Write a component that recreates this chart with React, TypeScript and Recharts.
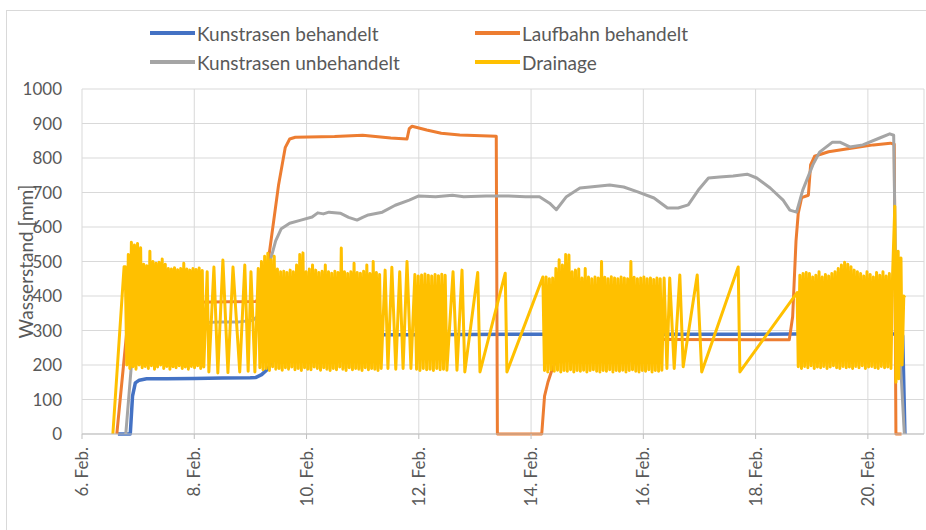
import React from "react";
import { LineChart, Line, XAxis, YAxis, CartesianGrid } from "recharts";

// --- tick values -----------------------------------------------------------
const dayTicks = [6, 8, 10, 12, 14, 16, 18, 20];
const levelTicks = [0, 100, 200, 300, 400, 500, 600, 700, 800, 900, 1000];

// --- series: [day of February, level mm] -----------------------------------
const kunstrasenBehandelt: [number, number][] = [
  [6.64, 0], [6.86, 0], [6.9, 110], [6.95, 148], [7.02, 156], [7.15, 160],
  [7.5, 160], [8.0, 161], [8.5, 162], [9.0, 163], [9.1, 164], [9.2, 172],
  [9.32, 190], [9.45, 240], [9.6, 275], [9.8, 287], [10.5, 288], [12, 288],
  [14, 289], [16, 289], [18, 289], [18.7, 290], [20.5, 290], [20.62, 285],
  [20.66, 0],
];

const laufbahnBehandelt: [number, number][] = [
  [6.62, 0], [6.8, 300], [6.9, 370], [7.2, 380], [8.0, 382], [8.6, 383],
  [9.1, 384], [9.25, 420], [9.35, 540], [9.5, 720], [9.62, 830], [9.7, 855],
  [9.8, 860], [10.5, 862], [11.0, 866], [11.5, 858], [11.79, 855], [11.83, 885],
  [11.88, 892], [12.14, 881], [12.4, 872], [12.73, 867], [13.38, 863],
  [13.4, 0], [14.19, 0], [14.24, 110], [14.3, 150], [14.37, 185], [14.5, 235],
  [14.7, 262], [15.0, 270], [16.4, 274], [18.6, 273], [18.66, 340],
  [18.72, 560], [18.76, 640], [18.82, 685], [18.94, 692], [18.98, 780],
  [19.05, 805], [19.3, 818], [19.7, 828], [20.1, 838], [20.4, 843],
  [20.47, 840], [20.5, 0], [20.6, 0],
];

const kunstrasenUnbehandelt: [number, number][] = [
  [6.78, 0], [6.88, 200], [6.95, 290], [7.1, 315], [7.5, 320], [8.0, 322],
  [8.5, 325], [8.8, 325], [9.05, 330], [9.15, 345], [9.25, 420], [9.35, 500],
  [9.45, 560], [9.55, 595], [9.7, 611], [9.9, 620], [10.1, 629], [10.2, 641],
  [10.3, 638], [10.4, 643], [10.6, 640], [10.75, 628], [10.9, 620], [11.0, 628],
  [11.1, 635], [11.35, 643], [11.58, 663], [11.83, 678], [12.0, 690],
  [12.3, 688], [12.6, 692], [12.8, 688], [13.2, 690], [13.6, 690], [13.9, 688],
  [14.15, 688], [14.33, 669], [14.45, 650], [14.63, 688], [14.87, 713],
  [15.05, 716], [15.4, 722], [15.65, 716], [15.9, 702], [16.19, 684],
  [16.43, 655], [16.62, 655], [16.8, 664], [16.98, 707], [17.16, 742],
  [17.36, 745], [17.6, 748], [17.85, 753], [18.02, 742], [18.26, 713],
  [18.49, 678], [18.61, 649], [18.73, 643], [18.84, 707], [19.02, 780],
  [19.14, 817], [19.37, 846], [19.5, 846], [19.68, 832], [19.91, 838],
  [20.21, 858], [20.39, 870], [20.46, 866], [20.5, 400], [20.6, 150],
  [20.65, 0],
];

// Drainage: sparse stretches as [day, level], dense logging stretches as
// [first, last] day plus the readings between them at a regular interval.
const drainSparse: [number, number][][] = [
  [[6.55, 0], [6.75, 485]],
  [[8.23, 470], [8.26, 180], [8.35, 484], [8.42, 177], [8.51, 504], [8.6, 178],
   [8.69, 484], [8.81, 180], [8.9, 490], [8.96, 182], [9.01, 470], [9.08, 180]],
  [[11.4, 475], [11.45, 190], [11.52, 483], [11.59, 188], [11.66, 470],
   [11.72, 190], [11.79, 500], [11.86, 190]],
  [[12.61, 470], [12.68, 185], [12.77, 475], [12.82, 180], [13.05, 468],
   [13.09, 180], [13.54, 466], [13.57, 180]],
  [[16.37, 452], [16.42, 190], [16.47, 452], [16.55, 190], [16.65, 461],
   [16.71, 195], [16.96, 461], [17.04, 180], [17.69, 484], [17.72, 180],
   [18.74, 410]],
  [[20.48, 660], [20.5, 150], [20.54, 530], [20.55, 160], [20.59, 510],
   [20.61, 200], [20.64, 400], [20.66, 395]],
];

const drainSpans: [number, number][] = [
  [6.77, 8.17], [9.14, 11.33], [11.93, 12.5], [14.21, 16.33], [18.76, 20.44],
];

const drainDense1 = [
  485, 200, 520, 190, 556, 195, 548, 188, 552, 200, 540, 192, 492, 196, 488, 190,
  530, 198, 500, 188, 495, 194, 498, 200, 507, 190, 492, 196, 480, 188, 478, 195,
  482, 192, 476, 198, 480, 190, 495, 194, 478, 188, 475, 196, 480, 192, 477, 198,
  481, 190, 474, 194,
];
const drainDense2 = [
  480, 192, 500, 186, 515, 190, 524, 184, 505, 195, 515, 188, 478, 190, 470, 185,
  472, 192, 468, 188, 475, 194, 470, 186, 490, 190, 520, 184, 525, 192, 470, 188,
  478, 186, 490, 194, 475, 190, 468, 185, 472, 192, 490, 188, 470, 184, 466, 190,
  472, 186, 468, 194, 539, 188, 470, 184, 465, 192, 470, 186, 495, 190, 468, 188,
  466, 184, 472, 192, 490, 186, 465, 190, 500, 188, 468, 184, 462, 190,
];
const drainDense3 = [
  462, 188, 458, 184, 461, 190, 464, 186, 460, 188, 458, 184, 462, 190, 459, 186,
  463, 188, 460, 185,
];
const drainDense4 = [
  455, 184, 455, 180, 450, 186, 452, 182, 480, 185, 505, 180, 490, 184, 520, 182,
  519, 186, 470, 180, 475, 184, 478, 182, 452, 185, 480, 180, 455, 184, 450, 186,
  455, 182, 452, 180, 500, 184, 454, 182, 450, 186, 456, 180, 452, 184, 450, 182,
  455, 185, 452, 180, 450, 184, 500, 186, 454, 182, 450, 180, 452, 184, 455, 182,
  450, 186, 452, 180, 448, 184, 452, 182, 450, 185,
];
const drainDense5 = [
  195, 460, 190, 465, 196, 468, 192, 465, 198, 455, 190, 460, 194, 470, 192, 455,
  196, 462, 190, 458, 194, 465, 198, 470, 192, 480, 190, 490, 196, 498, 192, 492,
  194, 485, 190, 475, 196, 470, 192, 465, 198, 458, 190, 470, 194, 462, 196, 455,
  192, 468, 190, 460, 196, 470, 192, 458, 194, 465, 190, 460,
];
const drainDense = [drainDense1, drainDense2, drainDense3, drainDense4, drainDense5];

// --- helpers ---------------------------------------------------------------
type Pt = { t: number; v: number };
const toPts = (rows: [number, number][]): Pt[] => rows.map(([t, v]) => ({ t, v }));

function drainage(): Pt[] {
  const out: Pt[] = [];
  drainSparse.forEach((rows, i) => {
    out.push(...toPts(rows));
    const vals = drainDense[i];
    if (!vals) return;
    const [a, b] = drainSpans[i];
    vals.forEach((v, j) => out.push({ t: a + ((b - a) * j) / (vals.length - 1), v }));
  });
  return out;
}

const FONT = "Lato, 'Open Sans', sans-serif";
const GREY = "#595959";

const series = [
  { name: "Kunstrasen behandelt", color: "#4472C4", width: 3.5, data: toPts(kunstrasenBehandelt) },
  { name: "Laufbahn behandelt", color: "#ED7D31", width: 3, data: toPts(laufbahnBehandelt) },
  { name: "Kunstrasen unbehandelt", color: "#A5A5A5", width: 3, data: toPts(kunstrasenUnbehandelt) },
  { name: "Drainage", color: "#FFC000", width: 3, data: drainage() },
];

function DayTick({ x, y, payload }: any) {
  return (
    <text
      x={x}
      y={y}
      transform={`rotate(-90 ${x} ${y})`}
      textAnchor="end"
      dy="0.36em"
      fill={GREY}
      fontSize={17}
      fontFamily={FONT}
    >
      {`${payload.value}. Feb.`}
    </text>
  );
}

function LevelTick({ y, payload }: any) {
  return (
    <text x={62} y={y} textAnchor="end" dy="0.36em" fill={GREY} fontSize={17} fontFamily={FONT}>
      {payload.value}
    </text>
  );
}

function AxisTitle({ viewBox }: any) {
  const cy = viewBox.y + viewBox.height / 2;
  return (
    <text
      x={26}
      y={cy}
      transform={`rotate(-90 26 ${cy})`}
      textAnchor="middle"
      dy="0.36em"
      fill={GREY}
      fontSize={19}
      fontFamily={FONT}
    >
      Wasserstand [mm]
    </text>
  );
}

export default function App() {
  return (
    <div style={{ position: "fixed", left: 0, top: 0, width: 926, height: 530, overflow: "hidden", background: "#fff" }}>
      <div style={{ position: "absolute", left: 6, top: 10, width: 960, height: 560, border: "1px solid #d9d9d9" }} />
      {series.map((s, i) => (
        <div
          key={s.name}
          style={{
            position: "absolute",
            left: i % 2 === 0 ? 150 : 475,
            top: i < 2 ? 21 : 50,
            height: 24,
            display: "flex",
            alignItems: "center",
            fontFamily: FONT,
            fontSize: 19,
            color: GREY,
            whiteSpace: "nowrap",
          }}
        >
          <span style={{ display: "inline-block", width: 45, height: 4, background: s.color }} />
          <span style={{ marginLeft: 2 }}>{s.name}</span>
        </div>
      ))}
      <LineChart width={926} height={530} margin={{ top: 89, right: 2, bottom: 0, left: 0 }}>
        <CartesianGrid stroke="#d9d9d9" />
        <XAxis
          dataKey="t"
          type="number"
          domain={[6, 21]}
          ticks={dayTicks}
          allowDataOverflow
          height={96}
          stroke="#bfbfbf"
          tickSize={5}
          tickMargin={8}
          tick={<DayTick />}
          interval={0}
        />
        <YAxis
          dataKey="v"
          type="number"
          domain={[0, 1000]}
          ticks={levelTicks}
          width={82}
          axisLine={false}
          tickLine={false}
          tick={<LevelTick />}
          interval={0}
          label={<AxisTitle />}
        />
        {series.map((s) => (
          <Line
            key={s.name}
            data={s.data}
            dataKey="v"
            name={s.name}
            type="linear"
            stroke={s.color}
            strokeWidth={s.width}
            strokeLinejoin="round"
            dot={false}
            activeDot={false}
            isAnimationActive={false}
          />
        ))}
      </LineChart>
    </div>
  );
}
